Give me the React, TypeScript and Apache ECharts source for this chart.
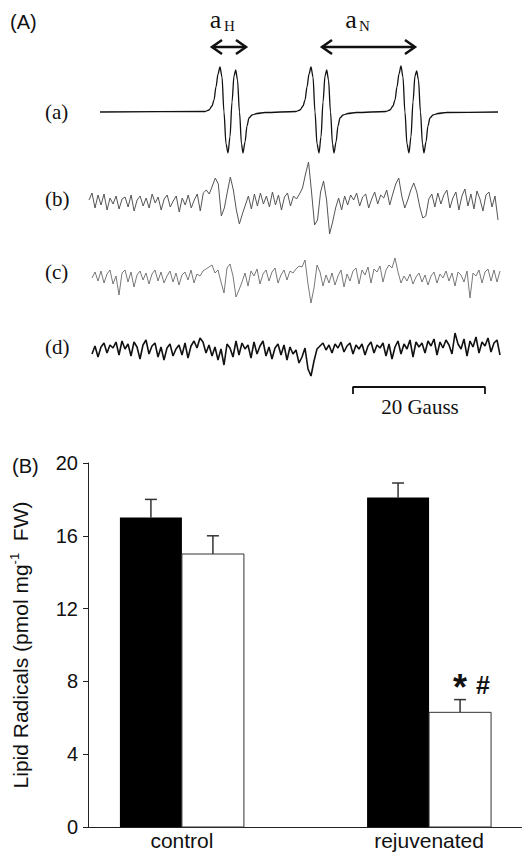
import React, { useEffect, useRef } from 'react';
import * as echarts from 'echarts';

// ---------- Panel B data ----------
const categories = ['control', 'rejuvenated'];
const darkMeans = [17.0, 18.1];
const darkErrors = [1.0, 0.8];
const lightMeans = [15.0, 6.3];
const lightErrors = [1.0, 0.7];
const starMarks = ['', '*'];
const hashMarks = ['', '#'];
const yMin = 0;
const yMax = 20;
const yInterval = 4;

// ---------- Panel A data ----------
// (a) simulated spectrum: [field (G), signal]
const traceA = [
  [1.67, 0], [17.58, 0.5], [18.18, 2], [18.64, 6], [18.94, 12], [19.24, 25], [19.55, 38], [19.85, 45], [20.15, 35], [20.45, 0],
  [20.76, -32], [21.06, -41], [21.36, -25], [21.67, 10], [21.97, 36], [22.23, 42], [22.5, 32], [22.8, 0], [23.11, -32], [23.33, -41],
  [23.64, -30], [23.94, -14], [24.24, -6], [24.7, -3], [25.45, -1.5], [26.67, -0.5],
  [31.37, 0.5], [31.97, 2], [32.43, 6], [32.73, 12], [33.03, 25], [33.34, 38], [33.64, 45], [33.94, 35], [34.24, 0],
  [34.55, -32], [34.85, -41], [35.15, -25], [35.46, 10], [35.76, 36], [36.02, 42], [36.29, 32], [36.59, 0], [36.9, -32], [37.12, -41],
  [37.43, -30], [37.73, -14], [38.03, -6], [38.49, -3], [39.24, -1.5], [40.46, -0.5],
  [45.0, 0.5], [45.6, 2], [46.06, 6], [46.36, 12], [46.66, 25], [46.97, 38], [47.27, 46], [47.57, 35], [47.87, 0],
  [48.18, -32], [48.48, -41], [48.78, -25], [49.09, 10], [49.39, 36], [49.65, 41], [49.92, 32], [50.22, 0], [50.53, -32], [50.75, -41],
  [51.06, -30], [51.36, -14], [51.66, -6], [52.12, -3], [52.87, -1.5], [54.09, -0.5],
  [61.97, 0],
];

const traceB = [
  2, 9, -6, 7, -3, 8, -8, 4, -2, 6,
  -7, 3, 5, -5, 7, -9, 2, 6, -4, 4,
  -6, 8, -1, 5, -8, 3, 7, -5, 1, 6,
  -10, 4, -3, 7, -6, 2, 8, -9, 9, 12,
  8, 16, 24, 18, -14, -6, 10, 25, 12, -8,
  -22, -12, -3, 6, -7, 8, -4, 9, -2, 6,
  -5, 10, -3, 7, -8, 5, 9, -4, 6, 3,
  8, 14, 28, 40, 10, -23, -18, 10, 21, 2,
  -32, -20, -6, 4, -8, 6, -3, 7, 2, 9,
  -4, 5, 8, -6, 3, 10, -2, 7, 4, 12,
  -3, 8, 18, 24, 6, -6, 2, 12, 19, 10,
  -5, -16, -14, 3, 8, -5, 9, -2, 7, 12,
  -6, 4, 10, -8, 6, 13, -4, 8, -7, 11,
  3, -9, 7, 10, -5, 6, -18,
];

const traceC = [
  0, 6, -3, 7, -5, 4, 8, -6, 2, -17,
  5, 8, -4, 6, -9, 3, 7, -2, 5, -6,
  4, 8, -3, 6, -5, 2, 7, -4, 5, -7,
  3, 6, -2, 8, -5, 4, 2, 7, 9, 11,
  13, 5, 8, -4, -15, 10, 14, 2, -19, -12,
  -4, 5, -8, 7, 2, 9, -6, 4, 8, -3,
  6, 10, -5, 3, 8, -2, 7, 5, 9, 12,
  11, 18, -6, -25, -10, 13, 6, -8, 3, -5,
  5, -7, 2, 8, -9, 4, -3, 7, 10, -6,
  8, 3, 11, -5, 9, 6, 12, -4, 8, 13,
  10, 20, 6, -5, 2, -3, 4, -6, 1, 5,
  -4, 3, -7, 2, 6, -5, 4, 0, 7, -3,
  5, -8, 6, 3, -4, 7, -20, 5, 2, 8,
  -5, 6, 9, -3, 8, -4, 7,
];

const traceD = [
  -3, 5, -6, 4, 8, -2, 6, 3, 9, -4,
  10, 2, 7, -5, 9, 4, -8, 6, 11, -3,
  5, 8, -6, 4, -9, 3, 7, -5, 2, 6,
  -4, 8, -7, 5, 10, 3, 13, 9, -2, 6,
  -5, 4, -9, 2, -14, 7, 3, -6, 10, -4,
  8, 2, 6, -7, 9, -3, 5, 10, -5, 4,
  -8, 3, 7, -4, 6, -9, 4, -3, 1, -12,
  -6, 3, -18, -25, -10, 2, 5, 8, 1, 6,
  -2, 7, 3, 9, -1, 5, 8, -3, 6, 2,
  7, -4, 5, 9, -2, 6, 3, 8, -5, 7,
  -8, 4, 10, -3, 7, 2, 11, -6, 9, 4,
  8, -2, 10, 5, 12, -4, 9, 3, 11, 6,
  -3, 18, 7, 2, 12, -5, 10, 4, 14, -2,
  9, 5, 13, -1, 8, 11, -4,
];

const fieldMax = 61.97; // G
const scaleBarStart = 40; // G
const scaleBarLength = 20; // G
const traceLabels = ['(a)', '(b)', '(c)', '(d)'];

const SANS = "'Liberation Sans', Arial, Helvetica, sans-serif";
const SERIF = "'Liberation Serif', 'Times New Roman', Times, serif";
const BAR_WIDTH = 62;

function barRenderer(offset: number, fill: string, stroke: string, withMarks: boolean) {
  return (params: any, api: any) => {
    const idx = params.dataIndex;
    const x = api.value(0);
    const v = api.value(1);
    const e = api.value(2);
    const top = api.coord([x, v]);
    const base = api.coord([x, 0]);
    const errTop = api.coord([x, v + e]);
    const cx = top[0] + offset;
    const half = BAR_WIDTH / 2;
    const children: any[] = [
      {
        type: 'line',
        shape: { x1: cx, y1: top[1], x2: cx, y2: errTop[1] },
        style: { stroke: '#333', lineWidth: 1.5 },
      },
      {
        type: 'line',
        shape: { x1: cx - 6, y1: errTop[1], x2: cx + 6, y2: errTop[1] },
        style: { stroke: '#333', lineWidth: 1.5 },
      },
      {
        type: 'rect',
        shape: { x: cx - half, y: top[1], width: BAR_WIDTH, height: base[1] - top[1] },
        style: { fill, stroke, lineWidth: stroke === 'none' ? 0 : 1 },
      },
    ];
    if (withMarks && starMarks[idx]) {
      children.push({
        type: 'text',
        x: cx,
        y: errTop[1] - 12,
        style: {
          text: starMarks[idx],
          fill: '#111',
          font: `bold 36px ${SANS}`,
          align: 'center',
          verticalAlign: 'middle',
        },
      });
    }
    if (withMarks && hashMarks[idx]) {
      children.push({
        type: 'text',
        x: cx + 23,
        y: errTop[1] - 15,
        style: {
          text: hashMarks[idx],
          fill: '#111',
          font: `bold 25px ${SANS}`,
          align: 'center',
          verticalAlign: 'middle',
        },
      });
    }
    return { type: 'group', children };
  };
}

function arrow(x1: number, x2: number, y: number) {
  const head = 10;
  const hh = 7;
  const style = { stroke: '#111', lineWidth: 2.5, fill: 'none' };
  return [
    { type: 'line', shape: { x1, y1: y, x2, y2: y }, style },
    { type: 'polyline', shape: { points: [[x1 + head, y - hh], [x1, y], [x1 + head, y + hh]] }, style },
    { type: 'polyline', shape: { points: [[x2 - head, y - hh], [x2, y], [x2 - head, y + hh]] }, style },
  ];
}

function hiddenValueX(min: number, max: number, gridIndex: number) {
  return { type: 'value', gridIndex, min, max, show: false };
}
function hiddenCatX(n: number, gridIndex: number) {
  return {
    type: 'category',
    gridIndex,
    boundaryGap: false,
    data: Array.from({ length: n }, (_, i) => i),
    show: false,
  };
}
function hiddenY(min: number, max: number, gridIndex: number) {
  return { type: 'value', gridIndex, min, max, show: false };
}

export default function App() {
  const ref = useRef<HTMLDivElement>(null);

  useEffect(() => {
    if (!ref.current) return;
    const chart = echarts.init(ref.current, undefined, { renderer: 'svg' });

    const traceLabelY = [112, 199, 272, 347];

    const option: any = {
      animation: false,
      backgroundColor: '#fff',
      grid: [
        { left: 89, right: 24, top: 62, height: 100 },
        { left: 89, right: 24, top: 152, height: 100 },
        { left: 92, right: 22, top: 228, height: 100 },
        { left: 92, right: 22, top: 301, height: 100 },
        { left: 89, right: 24, top: 387, height: 7 },
        { left: 83, right: 0, top: 463, bottom: 29 },
      ],
      xAxis: [
        hiddenValueX(0, fieldMax, 0),
        hiddenCatX(traceB.length, 1),
        hiddenCatX(traceC.length, 2),
        hiddenCatX(traceD.length, 3),
        hiddenValueX(0, fieldMax, 4),
        {
          type: 'value',
          gridIndex: 5,
          min: -0.38,
          max: 1.376,
          axisLine: { show: true, onZero: false, lineStyle: { color: '#222', width: 1 } },
          axisTick: { show: false },
          splitLine: { show: false },
          axisLabel: {
            customValues: [0, 1],
            formatter: (v: number) => categories[Math.round(v)] ?? '',
            color: '#111',
            fontSize: 21,
            fontFamily: SANS,
            margin: 3,
          },
        },
      ],
      yAxis: [
        hiddenY(-50, 50, 0),
        hiddenY(-50, 50, 1),
        hiddenY(-50, 50, 2),
        hiddenY(-50, 50, 3),
        hiddenY(0, 1, 4),
        {
          type: 'value',
          gridIndex: 5,
          position: 'left',
          min: yMin,
          max: yMax,
          interval: yInterval,
          axisLine: { show: true, onZero: false, lineStyle: { color: '#222', width: 1 } },
          axisTick: { show: true, inside: false, length: 5, lineStyle: { color: '#222' } },
          splitLine: { show: false },
          axisLabel: { color: '#111', fontSize: 20, fontFamily: SANS, margin: 10 },
          name: '{n|Lipid Radicals (pmol mg}{s|-1}{n|  FW)}',
          nameLocation: 'middle',
          nameGap: 56,
          nameRotate: 90,
          nameTextStyle: {
            rich: {
              n: { fontSize: 21, fontFamily: SANS, color: '#111', lineHeight: 24 },
              s: { fontSize: 13, fontFamily: SANS, color: '#111', lineHeight: 14, verticalAlign: 'top' },
            },
          },
        },
      ],
      series: [
        {
          type: 'line', xAxisIndex: 0, yAxisIndex: 0, data: traceA, showSymbol: false, symbol: 'none',
          smooth: 0.3, smoothMonotone: 'x', silent: true, clip: false,
          lineStyle: { color: '#111', width: 1.3 },
        },
        {
          type: 'line', xAxisIndex: 1, yAxisIndex: 1, data: traceB, showSymbol: false, symbol: 'none',
          silent: true, clip: false, lineStyle: { color: '#555', width: 1 },
        },
        {
          type: 'line', xAxisIndex: 2, yAxisIndex: 2, data: traceC, showSymbol: false, symbol: 'none',
          silent: true, clip: false, lineStyle: { color: '#6a6a6a', width: 0.9 },
        },
        {
          type: 'line', xAxisIndex: 3, yAxisIndex: 3, data: traceD, showSymbol: false, symbol: 'none',
          silent: true, clip: false, lineStyle: { color: '#111', width: 1.6 },
        },
        {
          type: 'line', xAxisIndex: 4, yAxisIndex: 4, showSymbol: false, symbol: 'none', silent: true, clip: false,
          data: [
            [scaleBarStart, 0], [scaleBarStart, 1],
            [scaleBarStart + scaleBarLength, 1], [scaleBarStart + scaleBarLength, 0],
          ],
          lineStyle: { color: '#111', width: 1.8 },
        },
        {
          type: 'custom', name: 'dark', xAxisIndex: 5, yAxisIndex: 5,
          data: categories.map((_, i) => [i, darkMeans[i], darkErrors[i]]),
          renderItem: barRenderer(-BAR_WIDTH / 2, '#000', 'none', false),
          silent: true,
        },
        {
          type: 'custom', name: 'light', xAxisIndex: 5, yAxisIndex: 5,
          data: categories.map((_, i) => [i, lightMeans[i], lightErrors[i]]),
          renderItem: barRenderer(BAR_WIDTH / 2, '#fff', '#333', true),
          silent: true,
        },
      ],
      graphic: [
        { type: 'text', x: 10, y: 22, style: { text: '(A)', font: `20px ${SANS}`, fill: '#111', verticalAlign: 'middle' } },
        { type: 'text', x: 215.5, y: 19, style: { text: 'a', font: `26px ${SERIF}`, fill: '#111', align: 'center', verticalAlign: 'middle' } },
        { type: 'text', x: 224, y: 26, style: { text: 'H', font: `15px ${SERIF}`, fill: '#111', verticalAlign: 'middle' } },
        { type: 'text', x: 351, y: 19, style: { text: 'a', font: `26px ${SERIF}`, fill: '#111', align: 'center', verticalAlign: 'middle' } },
        { type: 'text', x: 359, y: 26, style: { text: 'N', font: `15px ${SERIF}`, fill: '#111', verticalAlign: 'middle' } },
        ...arrow(212, 246, 47),
        ...arrow(322, 415, 47),
        ...traceLabels.map((t, i) => ({
          type: 'text', x: 45, y: traceLabelY[i],
          style: { text: t, font: `21px ${SERIF}`, fill: '#111', verticalAlign: 'middle' },
        })),
        { type: 'text', x: 420, y: 407, style: { text: '20 Gauss', font: `21px ${SERIF}`, fill: '#111', align: 'center', verticalAlign: 'middle' } },
        { type: 'text', x: 12, y: 466, style: { text: '(B)', font: `20px ${SANS}`, fill: '#111', verticalAlign: 'middle' } },
      ],
    };

    chart.setOption(option);
    return () => chart.dispose();
  }, []);

  return (
    <div
      ref={ref}
      style={{ position: 'absolute', left: 0, top: 0, width: 522, height: 856, background: '#fff' }}
    />
  );
}
